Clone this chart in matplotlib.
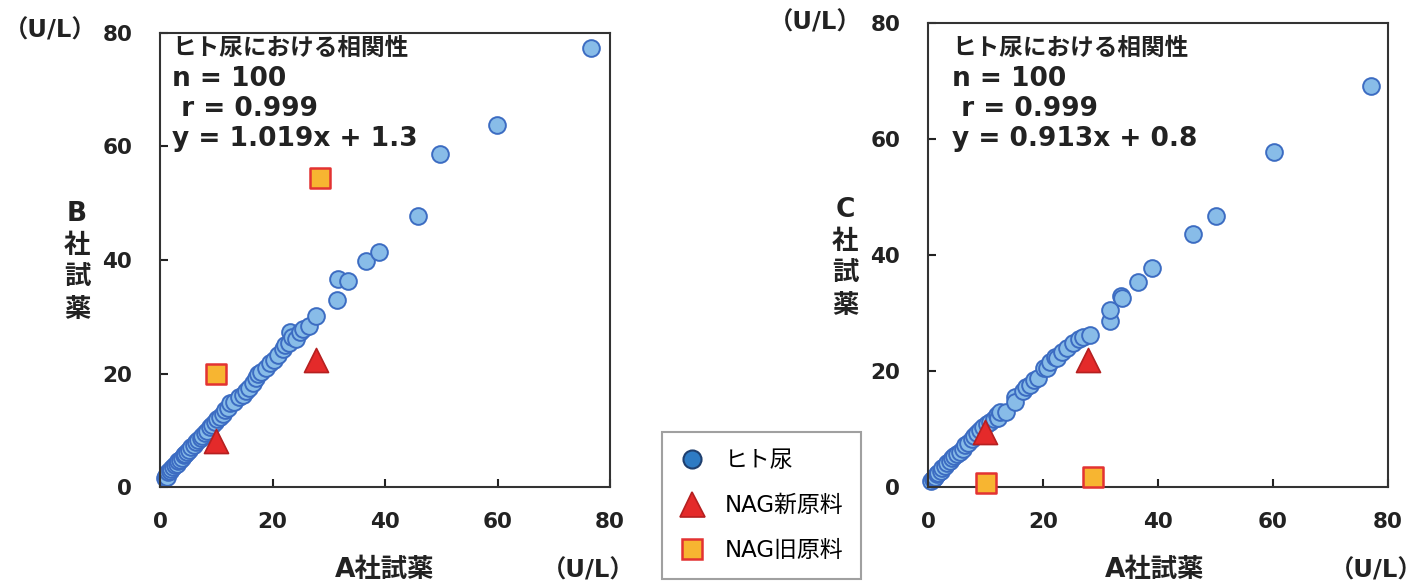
import numpy as np
import matplotlib.pyplot as plt
from matplotlib.lines import Line2D

plt.rcParams['font.family'] = ['DejaVu Sans', 'Noto Sans CJK JP']

# --- data (A社試薬 vs B社試薬 / C社試薬) ---
urine_a_b = [0.8, 1.0, 1.2, 1.5, 1.8, 2.0, 2.3, 2.6, 3.0, 3.2, 3.5, 3.9, 4.2, 4.5, 4.8,
             5.2, 5.5, 6.0, 6.4, 6.8, 7.2, 7.5, 8.0, 8.4, 8.8, 9.3, 9.8, 10.2, 10.7, 11.2,
             11.6, 12.0, 12.4, 13.2, 14.0, 14.8, 15.2, 15.8, 16.5, 17.0, 17.4, 18.0, 18.8,
             19.5, 20.3, 21.0, 21.8, 22.3, 23.0, 23.1, 23.5, 24.2, 24.8, 25.5, 26.5, 27.7,
             31.5, 31.6, 33.4, 36.6, 38.9, 45.9, 49.8, 59.9, 76.6]
urine_b = [1.5, 2.0, 1.8, 2.6, 2.9, 3.2, 3.5, 3.8, 4.1, 4.6, 4.8, 5.1, 5.6, 5.9, 6.2,
           6.6, 7.1, 7.4, 7.9, 8.3, 8.6, 9.0, 9.6, 9.9, 10.5, 11.0, 11.5, 11.9, 12.4, 12.8,
           13.5, 14.0, 14.8, 15.0, 15.8, 16.2, 17.0, 17.4, 18.4, 19.2, 20.0, 20.3, 21.0,
           21.8, 22.4, 23.2, 24.3, 25.0, 25.4, 27.4, 26.4, 26.0, 27.3, 27.8, 28.3, 30.1,
           33.0, 36.6, 36.3, 39.8, 41.4, 47.8, 58.7, 63.8, 77.4]

urine_a_c = [0.5, 0.8, 1.0, 1.3, 1.5, 1.8, 2.2, 2.5, 3.0, 3.3, 3.8, 4.2, 4.6, 5.0, 5.5,
             6.0, 6.5, 7.0, 7.6, 8.0, 8.5, 9.0, 9.6, 10.2, 10.8, 11.4, 12.0, 12.2, 12.5,
             13.5, 15.1, 15.1, 16.5, 17.0, 17.7, 18.5, 19.1, 20.2, 20.7, 21.3, 22.0, 22.4,
             23.3, 24.2, 25.2, 26.2, 27.0, 28.2, 31.7, 31.7, 33.6, 33.8, 36.5, 39.0, 46.1,
             50.1, 60.2, 77.0]
urine_c = [1.0, 1.3, 1.6, 1.8, 2.3, 2.5, 2.8, 3.3, 3.6, 4.1, 4.4, 5.0, 5.3, 5.7, 6.0,
           6.6, 7.2, 7.6, 8.2, 8.8, 9.3, 9.9, 10.4, 10.8, 11.2, 11.8, 12.4, 11.9, 12.9,
           13.0, 15.5, 14.7, 16.5, 17.3, 17.6, 18.4, 18.8, 20.6, 20.5, 21.5, 22.5, 22.2,
           23.3, 24.0, 24.8, 25.5, 25.9, 26.2, 28.6, 30.5, 32.9, 32.6, 35.3, 37.8, 43.6,
           46.7, 57.8, 69.1]

nag_new_a = [10.0, 27.7]
nag_new_b = [8.1, 22.4]
nag_new_a_c = [9.9, 27.8]
nag_new_c = [9.5, 21.9]

nag_old_a = [10.0, 28.4]
nag_old_b = [19.9, 54.4]
nag_old_a_c = [10.0, 28.7]
nag_old_c = [0.7, 1.7]

stats_b = ["ヒト尿における相関性", "n = 100", " r = 0.999", "y = 1.019x + 1.3"]
stats_c = ["ヒト尿における相関性", "n = 100", " r = 0.999", "y = 0.913x + 0.8"]
ticks = [0, 20, 40, 60, 80]

W, H = 1424, 583
fig = plt.figure(figsize=(W / 100, H / 100), dpi=100)


def fx(px):
    return px / W


def fy(py):
    return 1 - py / H


circle_style = dict(marker='o', s=145, facecolor='#88BCE8', edgecolor='#3C6CC2', linewidths=1.4)
tri_style = dict(marker='^', s=300, facecolor='#E42A2A', edgecolor='#B52020', linewidths=1.2)
sq_style = dict(marker='s', s=190, facecolor='#F7B531', edgecolor='#E33232', linewidths=1.8)


def setup_axes(ax):
    ax.set_xlim(0, 80)
    ax.set_ylim(0, 80)
    ax.set_xticks(ticks)
    ax.set_yticks(ticks)
    ax.tick_params(direction='in', length=6, width=1.5, labelsize=15.5, colors='#222222')
    ax.tick_params(axis='x', pad=18)
    ax.tick_params(axis='y', pad=20)
    for lab in ax.get_xticklabels() + ax.get_yticklabels():
        lab.set_fontweight('bold')
    for sp in ax.spines.values():
        sp.set_linewidth(1.5)
        sp.set_color('#333333')


ax1 = fig.add_axes([fx(160), fy(487), fx(610) - fx(160), fy(33) - fy(487)])
ax1.scatter(urine_a_b, urine_b, zorder=2, clip_on=False, **circle_style)
ax1.scatter(nag_new_a, nag_new_b, zorder=3, clip_on=False, **tri_style)
ax1.scatter(nag_old_a, nag_old_b, zorder=3, clip_on=False, **sq_style)
setup_axes(ax1)

ax2 = fig.add_axes([fx(928), fy(487), fx(1388) - fx(928), fy(23) - fy(487)])
ax2.scatter(urine_a_c, urine_c, zorder=2, clip_on=False, **circle_style)
ax2.scatter(nag_new_a_c, nag_new_c, zorder=3, clip_on=False, **tri_style)
ax2.scatter(nag_old_a_c, nag_old_c, zorder=3, clip_on=False, **sq_style)
setup_axes(ax2)

# stats text inside each panel
for x0, lines in [(172, stats_b), (952, stats_c)]:
    for i, t in enumerate(lines):
        size = 17 if i == 0 else 19
        fig.text(fx(x0), fy(48 + 30.5 * i), t, fontsize=size, fontweight='bold',
                 color='#222222', ha='left', va='center')

# axis labels
lab_kw = dict(fontsize=19, fontweight='bold', color='#222222', ha='center', va='center')
unit_kw = dict(lab_kw, fontsize=17.5)
fig.text(fx(77), fy(262), "B\n社\n試\n薬", linespacing=1.3, **lab_kw)
fig.text(fx(845), fy(258), "C\n社\n試\n薬", linespacing=1.3, **lab_kw)
fig.text(fx(385), fy(570), "A社試薬", **lab_kw)
fig.text(fx(1155), fy(570), "A社試薬", **lab_kw)
fig.text(fx(50), fy(31), "（U/L）", **unit_kw)
fig.text(fx(815), fy(22), "（U/L）", **unit_kw)
fig.text(fx(588), fy(570), "（U/L）", **unit_kw)
fig.text(fx(1376), fy(570), "（U/L）", **unit_kw)

# legend
handles = [
    Line2D([], [], ls='none', marker='o', markersize=13, markerfacecolor='#2E7BC4',
           markeredgecolor='#1F3F6E', markeredgewidth=1.5),
    Line2D([], [], ls='none', marker='^', markersize=18, markerfacecolor='#E42A2A',
           markeredgecolor='#B52020', markeredgewidth=1.2),
    Line2D([], [], ls='none', marker='s', markersize=15, markerfacecolor='#F7B531',
           markeredgecolor='#E33232', markeredgewidth=1.8),
]
leg = fig.legend(handles, ["ヒト尿", "NAG新原料", "NAG旧原料"], loc='upper left',
                 bbox_to_anchor=(fx(662), fy(432)), borderaxespad=0, fancybox=False,
                 prop={'size': 16.5, 'family': ['DejaVu Sans', 'Noto Sans CJK JP']},
                 labelspacing=0.95, borderpad=0.75, handlelength=1.1, handletextpad=0.9)
leg.get_frame().set_edgecolor('#888888')
leg.get_frame().set_linewidth(1.5)

fig.savefig("out.png", dpi=100)
